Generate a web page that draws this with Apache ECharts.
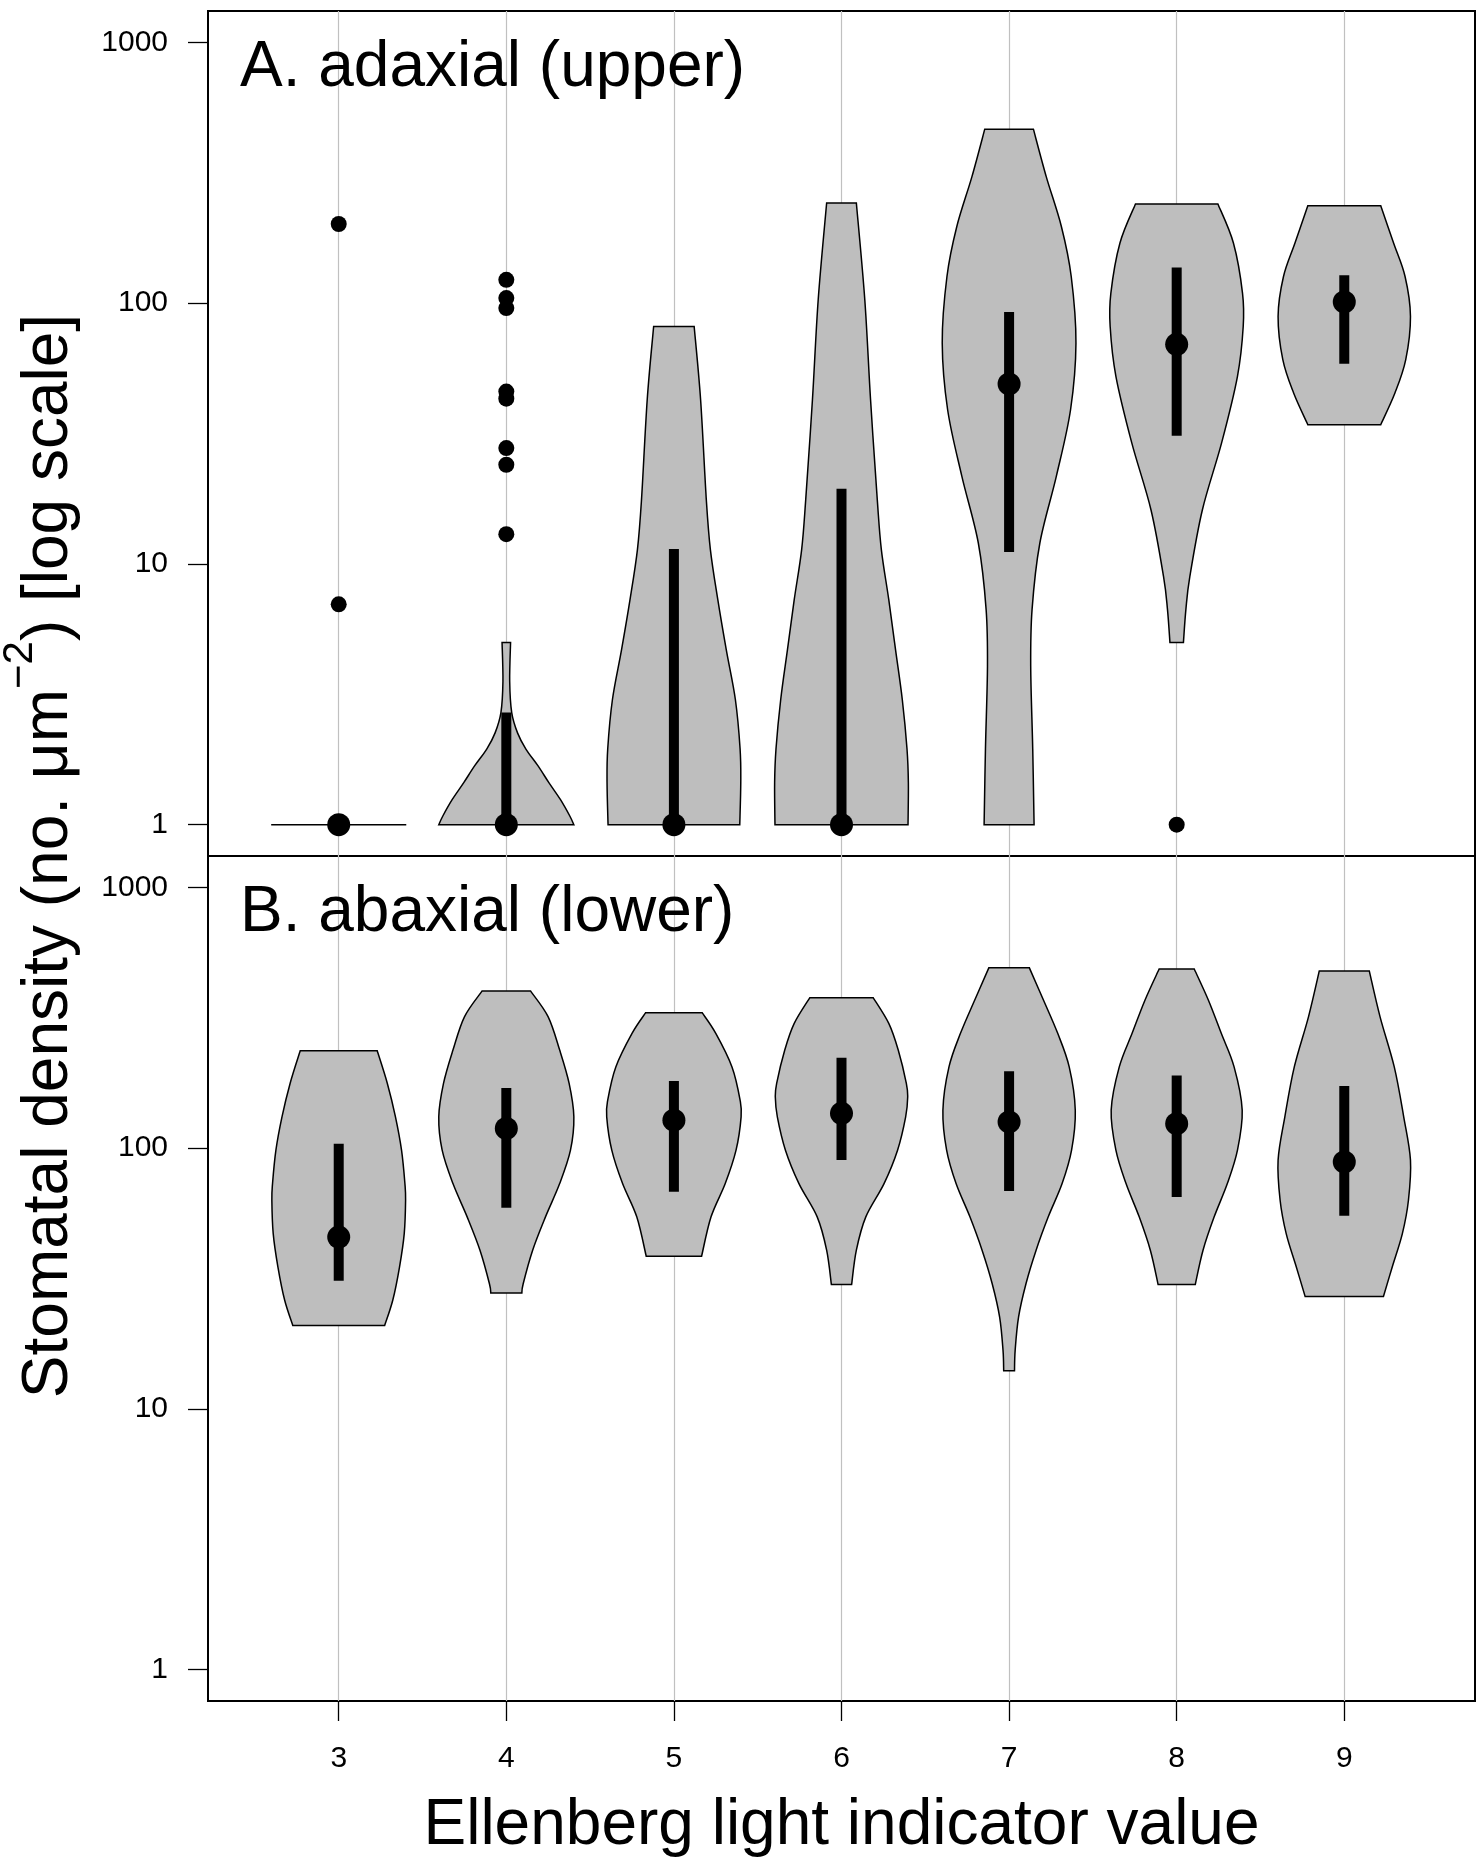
<!DOCTYPE html>
<html>
<head>
<meta charset="utf-8">
<script src="https://cdn.jsdelivr.net/npm/echarts@6/dist/echarts.min.js"></script>
<style>
  html, body { margin: 0; padding: 0; background: #fff; }
  #chart { width: 1476px; height: 1865px; }
</style>
</head>
<body>
<div id="chart"></div>
<script>
// Ellenberg light indicator values (x categories)
var lightValues = [3, 4, 5, 6, 7, 8, 9];
var yTicks = [1, 10, 100, 1000];

// A. adaxial (upper): violin outlines, density levels (bottom -> top) and relative half widths
var adaxLevels = [
  [1],
  [1, 1.08, 1.25, 1.45, 1.68, 1.95, 2.25, 2.69, 3.55, 5.0],
  [1, 1.45, 1.95, 3.02, 4.69, 7.29, 11.35, 17.6, 42.7, 81.3],
  [1, 1.45, 1.95, 3.02, 4.69, 7.29, 11.35, 17.6, 42.7, 103, 242],
  [1, 1.95, 4.05, 6.68, 12.0, 21.7, 39.0, 70.3, 126.5, 196.3, 305.5, 464.5],
  [5.0, 6.68, 8.95, 16.1, 29.1, 52.4, 81.3, 109, 170, 240],
  [34.2, 45.2, 60.7, 88.9, 126.5, 170, 236]
];
var adaxWidths = [
  [1.0],
  [1.0, 0.94, 0.80, 0.63, 0.47, 0.29, 0.166, 0.08, 0.05, 0.063],
  [0.975, 0.99, 0.98, 0.91, 0.775, 0.65, 0.54, 0.48, 0.395, 0.30],
  [0.985, 0.99, 0.97, 0.90, 0.80, 0.70, 0.59, 0.53, 0.43, 0.345, 0.22],
  [0.37, 0.35, 0.32, 0.34, 0.455, 0.70, 0.91, 0.99, 0.92, 0.775, 0.55, 0.36],
  [0.10, 0.136, 0.195, 0.38, 0.665, 0.90, 0.985, 0.975, 0.84, 0.61],
  [0.54, 0.75, 0.91, 0.98, 0.90, 0.73, 0.54]
];
var adaxMedian = [1, 1, 1, 1, 49, 69.5, 101];
var adaxQ1 = [1, 1, 1, 1, 11.1, 31, 58.5];
var adaxQ3 = [1, 2.69, 11.4, 19.4, 92.4, 137, 128];
var adaxOutlierX = [3, 3, 4, 4, 4, 4, 4, 4, 4, 4, 8];
var adaxOutlierY = [7.0, 201, 122.8, 104.5, 95.7, 45.8, 43.0, 27.8, 24.0, 13.0, 1];

// B. abaxial (lower)
var abaxLevels = [
  [20.9, 26.1, 35.0, 47.0, 63.1, 73.1, 98.2, 131.8, 177, 236],
  [27.8, 30.2, 40.6, 54.5, 73.1, 98.2, 131.8, 177, 237.6, 318.7, 400],
  [38.5, 54.5, 73.1, 98.2, 131.8, 152.8, 204.8, 275.4, 330],
  [30.0, 40.6, 54.5, 73.1, 98.2, 131.8, 157, 177, 237.6, 300.6, 377],
  [14.0, 16.8, 22.5, 30.2, 40.6, 54.5, 73.1, 98.2, 139.8, 204.8, 275.4, 369, 491],
  [30.0, 40.6, 54.5, 73.1, 98.2, 139.8, 204.8, 275.4, 369, 486],
  [27.0, 35.0, 47.0, 63.1, 89.9, 131.8, 204.8, 318.7, 478]
];
var abaxWidths = [
  [0.68, 0.80, 0.90, 0.97, 0.99, 0.98, 0.93, 0.84, 0.72, 0.57],
  [0.23, 0.25, 0.39, 0.58, 0.79, 0.95, 1.0, 0.93, 0.79, 0.62, 0.36],
  [0.41, 0.55, 0.76, 0.92, 0.995, 0.98, 0.86, 0.62, 0.42],
  [0.15, 0.22, 0.36, 0.63, 0.83, 0.95, 0.98, 0.96, 0.84, 0.70, 0.47],
  [0.08, 0.09, 0.14, 0.25, 0.40, 0.58, 0.785, 0.925, 0.98, 0.89, 0.72, 0.51, 0.30],
  [0.275, 0.39, 0.555, 0.75, 0.90, 0.97, 0.85, 0.66, 0.47, 0.26],
  [0.58, 0.71, 0.86, 0.95, 0.98, 0.88, 0.74, 0.53, 0.37]
];
var abaxMedian = [45.6, 119, 128, 136, 126, 124, 88.5];
var abaxQ1 = [31, 59, 68, 90, 68.5, 65, 55];
var abaxQ3 = [104, 170, 181, 222, 197, 190, 173];

var FONT = '"Liberation Sans", Arial, Helvetica, sans-serif';
var HALF_W = 0.403;          // max violin half width, in x units
var Y_MIN = Math.pow(10, -0.12);
var Y_MAX = Math.pow(10, 3.12);

// catmull-rom through the outline points, as bezier segments
function smoothSide(pts) {
  var d = '';
  for (var k = 0; k < pts.length - 1; k++) {
    var p0 = pts[Math.max(k - 1, 0)], p1 = pts[k], p2 = pts[k + 1];
    var p3 = pts[Math.min(k + 2, pts.length - 1)];
    var c1x = p1[0] + (p2[0] - p0[0]) / 6, c1y = p1[1] + (p2[1] - p0[1]) / 6;
    var c2x = p2[0] - (p3[0] - p1[0]) / 6, c2y = p2[1] - (p3[1] - p1[1]) / 6;
    d += ' C' + c1x + ' ' + c1y + ' ' + c2x + ' ' + c2y + ' ' + p2[0] + ' ' + p2[1];
  }
  return d;
}

function violinRenderer(levels, widths, q1, q3) {
  return function (params, api) {
    var i = params.dataIndex;
    var x = api.value(0);
    var lv = levels[i], wd = widths[i];
    var left = [], right = [];
    for (var k = 0; k < lv.length; k++) {
      left.push(api.coord([x - wd[k] * HALF_W, lv[k]]));
      right.push(api.coord([x + wd[k] * HALF_W, lv[k]]));
    }
    var children = [];
    if (lv.length === 1) {
      children.push({
        type: 'line',
        shape: { x1: left[0][0], y1: left[0][1], x2: right[0][0], y2: right[0][1] },
        style: { stroke: '#000', lineWidth: 1.5 }
      });
    } else {
      var rev = right.slice().reverse();
      var d = 'M' + left[0][0] + ' ' + left[0][1] + smoothSide(left) +
        ' L' + rev[0][0] + ' ' + rev[0][1] + smoothSide(rev) + ' Z';
      children.push({
        type: 'path',
        shape: { pathData: d },
        style: { fill: '#bebebe', stroke: '#000', lineWidth: 1.5, lineJoin: 'miter' }
      });
    }
    if (q3[i] > q1[i]) {
      var a = api.coord([x, q1[i]]), b = api.coord([x, q3[i]]);
      children.push({
        type: 'line',
        shape: { x1: a[0], y1: a[1], x2: b[0], y2: b[1] },
        style: { stroke: '#000', lineWidth: 10, lineCap: 'butt' }
      });
    }
    return { type: 'group', children: children };
  };
}

function xAxisFor(gridIndex, showLabels) {
  return {
    gridIndex: gridIndex,
    type: 'value',
    min: 2.22,
    max: 9.78,
    axisLine: { show: false },
    axisTick: {
      show: showLabels, inside: false, length: 20, customValues: lightValues,
      lineStyle: { color: '#000', width: 1.3 }
    },
    axisLabel: {
      show: showLabels, customValues: lightValues, margin: 43,
      fontSize: 30, lineHeight: 30, fontFamily: FONT, color: '#000'
    },
    splitLine: { show: true, lineStyle: { color: '#c0c0c0', width: 1.2 } },
    name: showLabels ? 'Ellenberg light indicator value' : '',
    nameLocation: 'middle',
    nameGap: 93,
    nameTextStyle: { fontSize: 64, lineHeight: 64, fontFamily: FONT, color: '#000' }
  };
}

function yAxisFor(gridIndex) {
  return {
    gridIndex: gridIndex,
    type: 'log',
    logBase: 10,
    min: Y_MIN,
    max: Y_MAX,
    axisLine: { show: false },
    axisTick: {
      show: true, inside: false, length: 20, customValues: yTicks,
      lineStyle: { color: '#000', width: 1.3 }
    },
    axisLabel: {
      show: true, customValues: yTicks, margin: 40,
      fontSize: 30, lineHeight: 30, fontFamily: FONT, color: '#000',
      formatter: function (v) { return String(Math.round(v)); }
    },
    splitLine: { show: false },
    minorTick: { show: false },
    minorSplitLine: { show: false }
  };
}

var gridStyle = {
  left: 208, width: 1267, height: 845,
  show: true, borderColor: '#000', borderWidth: 2,
  backgroundColor: 'transparent', containLabel: false, outerBoundsMode: 'none'
};

var chart = echarts.init(document.getElementById('chart'), null, { renderer: 'canvas' });
chart.setOption({
  animation: false,
  backgroundColor: '#fff',
  title: [
    { text: 'A. adaxial (upper)', left: 240, top: 36, padding: 0,
      textStyle: { fontSize: 64, lineHeight: 64, fontWeight: 'normal', fontFamily: FONT, color: '#000' } },
    { text: 'B. abaxial (lower)', left: 240, top: 881, padding: 0,
      textStyle: { fontSize: 64, lineHeight: 64, fontWeight: 'normal', fontFamily: FONT, color: '#000' } }
  ],
  grid: [
    Object.assign({ top: 11 }, gridStyle),
    Object.assign({ top: 856 }, gridStyle)
  ],
  xAxis: [xAxisFor(0, false), xAxisFor(1, true)],
  yAxis: [yAxisFor(0), yAxisFor(1)],
  graphic: [{
    type: 'text',
    x: 49,
    y: 856,
    rotation: Math.PI / 2,
    style: {
      text: '{m|Stomatal density (no. μm}{s|−2}{m|) [log scale]}',
      align: 'center', verticalAlign: 'middle',
      textAlign: 'center', textVerticalAlign: 'middle',
      fill: '#000',
      rich: {
        m: { fontSize: 64, lineHeight: 100, fontFamily: FONT, fill: '#000', color: '#000' },
        s: { fontSize: 42, lineHeight: 42, verticalAlign: 'top', fontFamily: FONT, fill: '#000', color: '#000' }
      }
    }
  }],
  series: [
    {
      type: 'custom', xAxisIndex: 0, yAxisIndex: 0,
      renderItem: violinRenderer(adaxLevels, adaxWidths, adaxQ1, adaxQ3),
      encode: { x: 0, y: 1 },
      data: lightValues.map(function (v, i) { return [v, adaxMedian[i]]; }),
      z: 2
    },
    {
      type: 'custom', xAxisIndex: 1, yAxisIndex: 1,
      renderItem: violinRenderer(abaxLevels, abaxWidths, abaxQ1, abaxQ3),
      encode: { x: 0, y: 1 },
      data: lightValues.map(function (v, i) { return [v, abaxMedian[i]]; }),
      z: 2
    },
    {
      type: 'scatter', xAxisIndex: 0, yAxisIndex: 0, symbol: 'circle', symbolSize: 23,
      itemStyle: { color: '#000', opacity: 1 },
      data: lightValues.map(function (v, i) { return [v, adaxMedian[i]]; }),
      z: 4
    },
    {
      type: 'scatter', xAxisIndex: 1, yAxisIndex: 1, symbol: 'circle', symbolSize: 23,
      itemStyle: { color: '#000', opacity: 1 },
      data: lightValues.map(function (v, i) { return [v, abaxMedian[i]]; }),
      z: 4
    },
    {
      type: 'scatter', xAxisIndex: 0, yAxisIndex: 0, symbol: 'circle', symbolSize: 16,
      itemStyle: { color: '#000', opacity: 1 },
      data: adaxOutlierX.map(function (v, i) { return [v, adaxOutlierY[i]]; }),
      z: 4
    }
  ]
});
</script>
</body>
</html>
